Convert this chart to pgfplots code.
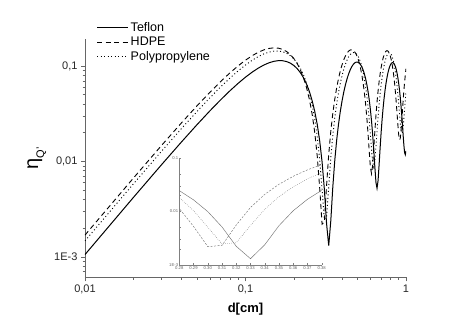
\documentclass[border=0pt]{standalone}
\usepackage{fontspec}
\setmainfont{Liberation Sans}
\usepackage{pgfplots}
\pgfplotsset{compat=1.18}
\usepackage{pgfplotstable}

% d in cm; efficiency for the three materials
\pgfplotstableread{
d tef hdpe pp
0.01 0.001056 0.00169 0.00147
0.02 0.004181 0.00667 0.0058
0.03 0.00925 0.01472 0.0128
0.04 0.01607 0.02547 0.02219
0.05 0.02439 0.03844 0.03356
0.06 0.03389 0.05308 0.04647
0.07 0.04423 0.06876 0.06039
0.08 0.05503 0.0848 0.07476
0.09 0.0659 0.10051 0.08899
0.10 0.07643 0.11523 0.10254
0.11 0.08625 0.12833 0.11485
0.12 0.095 0.13927 0.12544
0.13 0.10237 0.14759 0.1339
0.14 0.10809 0.15294 0.1399
0.15 0.11196 0.1551 0.14319
0.16 0.11385 0.15399 0.14367
0.17 0.11369 0.14968 0.14133
0.18 0.11149 0.14234 0.13625
0.19 0.10735 0.13231 0.12866
0.20 0.10139 0.12001 0.11886
0.21 0.09386 0.10596 0.10725
0.22 0.08503 0.09077 0.09428
0.23 0.07522 0.07508 0.08049
0.24 0.06478 0.05954 0.06641
0.25 0.05409 0.04482 0.0526
0.26 0.04353 0.03152 0.03961
0.27 0.0335 0.02019 0.02794
0.28 0.02433 0.01131 0.01806
0.29 0.01637 0.00523 0.01033
0.30 0.00989 0.0022 0.00507
0.31 0.00512 0.00232 0.00246
0.32 0.00223 0.00557 0.0026
0.33 0.00131 0.01181 0.00546
0.34 0.00238 0.02074 0.01093
0.35 0.00541 0.03198 0.01878
0.36 0.01027 0.04505 0.02868
0.37 0.01678 0.05938 0.04023
0.38 0.0247 0.07435 0.05298
0.39 0.03374 0.08934 0.0664
0.40 0.04357 0.1037 0.07998
0.41 0.05383 0.11684 0.09316
0.42 0.06415 0.12821 0.10543
0.43 0.07415 0.13733 0.11632
0.44 0.08347 0.14383 0.12539
0.45 0.09179 0.14744 0.1323
0.46 0.09881 0.14804 0.13678
0.47 0.10428 0.14561 0.13868
0.48 0.10799 0.14026 0.13792
0.49 0.10984 0.13223 0.13456
0.50 0.10976 0.12189 0.12875
0.51 0.10776 0.10968 0.12071
0.52 0.10393 0.09612 0.11079
0.53 0.09839 0.0818 0.0994
0.54 0.09137 0.06732 0.08698
0.55 0.08313 0.0533 0.07405
0.56 0.07397 0.04033 0.06111
0.57 0.06421 0.02896 0.04869
0.58 0.05423 0.01965 0.03727
0.59 0.04438 0.01279 0.02732
0.60 0.03501 0.00867 0.01921
0.61 0.02647 0.00744 0.01328
0.62 0.01906 0.00915 0.00974
0.63 0.01305 0.01371 0.00873
0.64 0.00865 0.02092 0.01029
0.65 0.00601 0.03046 0.01434
0.66 0.00523 0.04193 0.02072
0.67 0.00632 0.05482 0.02917
0.68 0.00925 0.06861 0.03936
0.69 0.0139 0.08269 0.05087
0.70 0.02011 0.09649 0.06325
0.71 0.02763 0.10942 0.07602
0.72 0.03621 0.12094 0.08867
0.73 0.04553 0.1306 0.10071
0.74 0.05524 0.13798 0.11167
0.75 0.06501 0.1428 0.12113
0.76 0.07448 0.14486 0.12873
0.77 0.08332 0.14412 0.13418
0.78 0.0912 0.14061 0.13729
0.79 0.09786 0.1345 0.13795
0.80 0.10307 0.12607 0.13616
0.81 0.10663 0.11569 0.13201
0.82 0.10844 0.10383 0.12568
0.83 0.10844 0.09099 0.11743
0.84 0.10664 0.07773 0.10762
0.85 0.10312 0.06462 0.09665
0.86 0.098 0.05221 0.08497
0.87 0.0915 0.04103 0.07305
0.88 0.08384 0.03157 0.06137
0.89 0.07533 0.0242 0.05041
0.90 0.06627 0.01924 0.0406
0.91 0.05699 0.0169 0.03234
0.92 0.04783 0.01727 0.02595
0.93 0.03914 0.02032 0.0217
0.94 0.03122 0.02592 0.01974
0.95 0.02437 0.03382 0.02015
0.96 0.01882 0.0437 0.02292
0.97 0.01479 0.05513 0.02794
0.98 0.01241 0.06762 0.035
0.99 0.01176 0.08066 0.04383
1.00 0.01288 0.09371 0.05408
}\etadata

\begin{document}
\begin{tikzpicture}
\path[use as bounding box] (-85pt,-54.7pt) rectangle (386pt,277.3pt);

\begin{axis}[
  at={(0pt,0pt)}, anchor=south west,
  scale only axis, width=321pt, height=238.3pt,
  xmode=log, ymode=log,
  xmin=0.01, xmax=1, ymin=6.1e-4, ymax=0.192,
  axis x line*=bottom, axis y line*=left,
  axis line style={draw=black!60, line width=0.6pt},
  tick style={draw=black!60, line width=0.5pt},
  tick align=outside,
  major tick length=4pt, minor tick length=2.5pt,
  xtick={0.01,0.1,1}, xticklabels={{0,01},{0,1},1},
  minor xtick={0.02,0.03,0.04,0.05,0.06,0.07,0.08,0.09,0.2,0.3,0.4,0.5,0.6,0.7,0.8,0.9},
  ytick={0.001,0.01,0.1}, yticklabels={1E-3,{0,01},{0,1}},
  minor ytick={0.0007,0.0008,0.0009,0.002,0.003,0.004,0.005,0.006,0.007,0.008,0.009,0.02,0.03,0.04,0.05,0.06,0.07,0.08,0.09},
  ticklabel style={font=\fontsize{11}{12}\selectfont, text=black!85},
  xlabel={d[cm]},
  xlabel style={at={(axis description cs:0.5,-0.133)}, anchor=center, font=\fontsize{13}{13}\selectfont\bfseries},
  ylabel={\fontsize{20}{20}\selectfont η\raisebox{-0.3em}{\fontsize{11}{11}\selectfont Q'}},
  ylabel style={at={(axis description cs:-0.150,0.5)}, anchor=center},
  legend image code/.code={\draw[#1] (0pt,0pt) -- (31pt,0pt);},
  legend style={at={(axis description cs:0.036,1.078)}, anchor=north west,
    draw=none, fill=none, font=\fontsize{12.5}{13}\selectfont,
    row sep=0pt, inner sep=0pt},
  legend cell align=left,
  clip=true,
]
\addplot[black, line width=1pt] table[x=d, y=tef] {\etadata};
\addplot[black, line width=0.9pt, dash pattern=on 5pt off 3.5pt] table[x=d, y=hdpe] {\etadata};
\addplot[black, line width=0.9pt, dash pattern=on 1pt off 2.5pt] table[x=d, y=pp] {\etadata};
\legend{Teflon, HDPE, Polypropylene}
\end{axis}

% inset: zoom on the first minimum
\begin{axis}[
  at={(94.3pt,12.3pt)}, anchor=south west,
  scale only axis, width=142.4pt, height=107.3pt,
  xmin=0.28, xmax=0.38, ymode=log, ymin=0.001, ymax=0.1,
  axis x line*=bottom, axis y line*=left,
  axis line style={draw=black!50, line width=0.4pt},
  tick style={draw=black!50, line width=0.3pt},
  tick align=inside,
  major tick length=2pt, minor tick length=1.2pt,
  xtick={0.28,0.29,0.30,0.31,0.32,0.33,0.34,0.35,0.36,0.37,0.38},
  xticklabels={0.28,0.29,0.30,0.31,0.32,0.33,0.34,0.35,0.36,0.37,0.38},
  ytick={0.001,0.01,0.1}, yticklabels={1E-3,0.01,0.1},
  minor ytick={0.002,0.003,0.005,0.02,0.03,0.05},
  ticklabel style={font=\fontsize{4.2}{5}\selectfont, text=black!60, inner sep=1pt},
  restrict x to domain=0.27:0.39,
  clip=true,
]
\addplot[black!55, line width=0.45pt] table[x=d, y=tef] {\etadata};
\addplot[black!55, line width=0.45pt, dash pattern=on 2pt off 1.5pt] table[x=d, y=hdpe] {\etadata};
\addplot[black!55, line width=0.45pt, dash pattern=on 0.6pt off 1.4pt] table[x=d, y=pp] {\etadata};
\end{axis}
\end{tikzpicture}
\end{document}
